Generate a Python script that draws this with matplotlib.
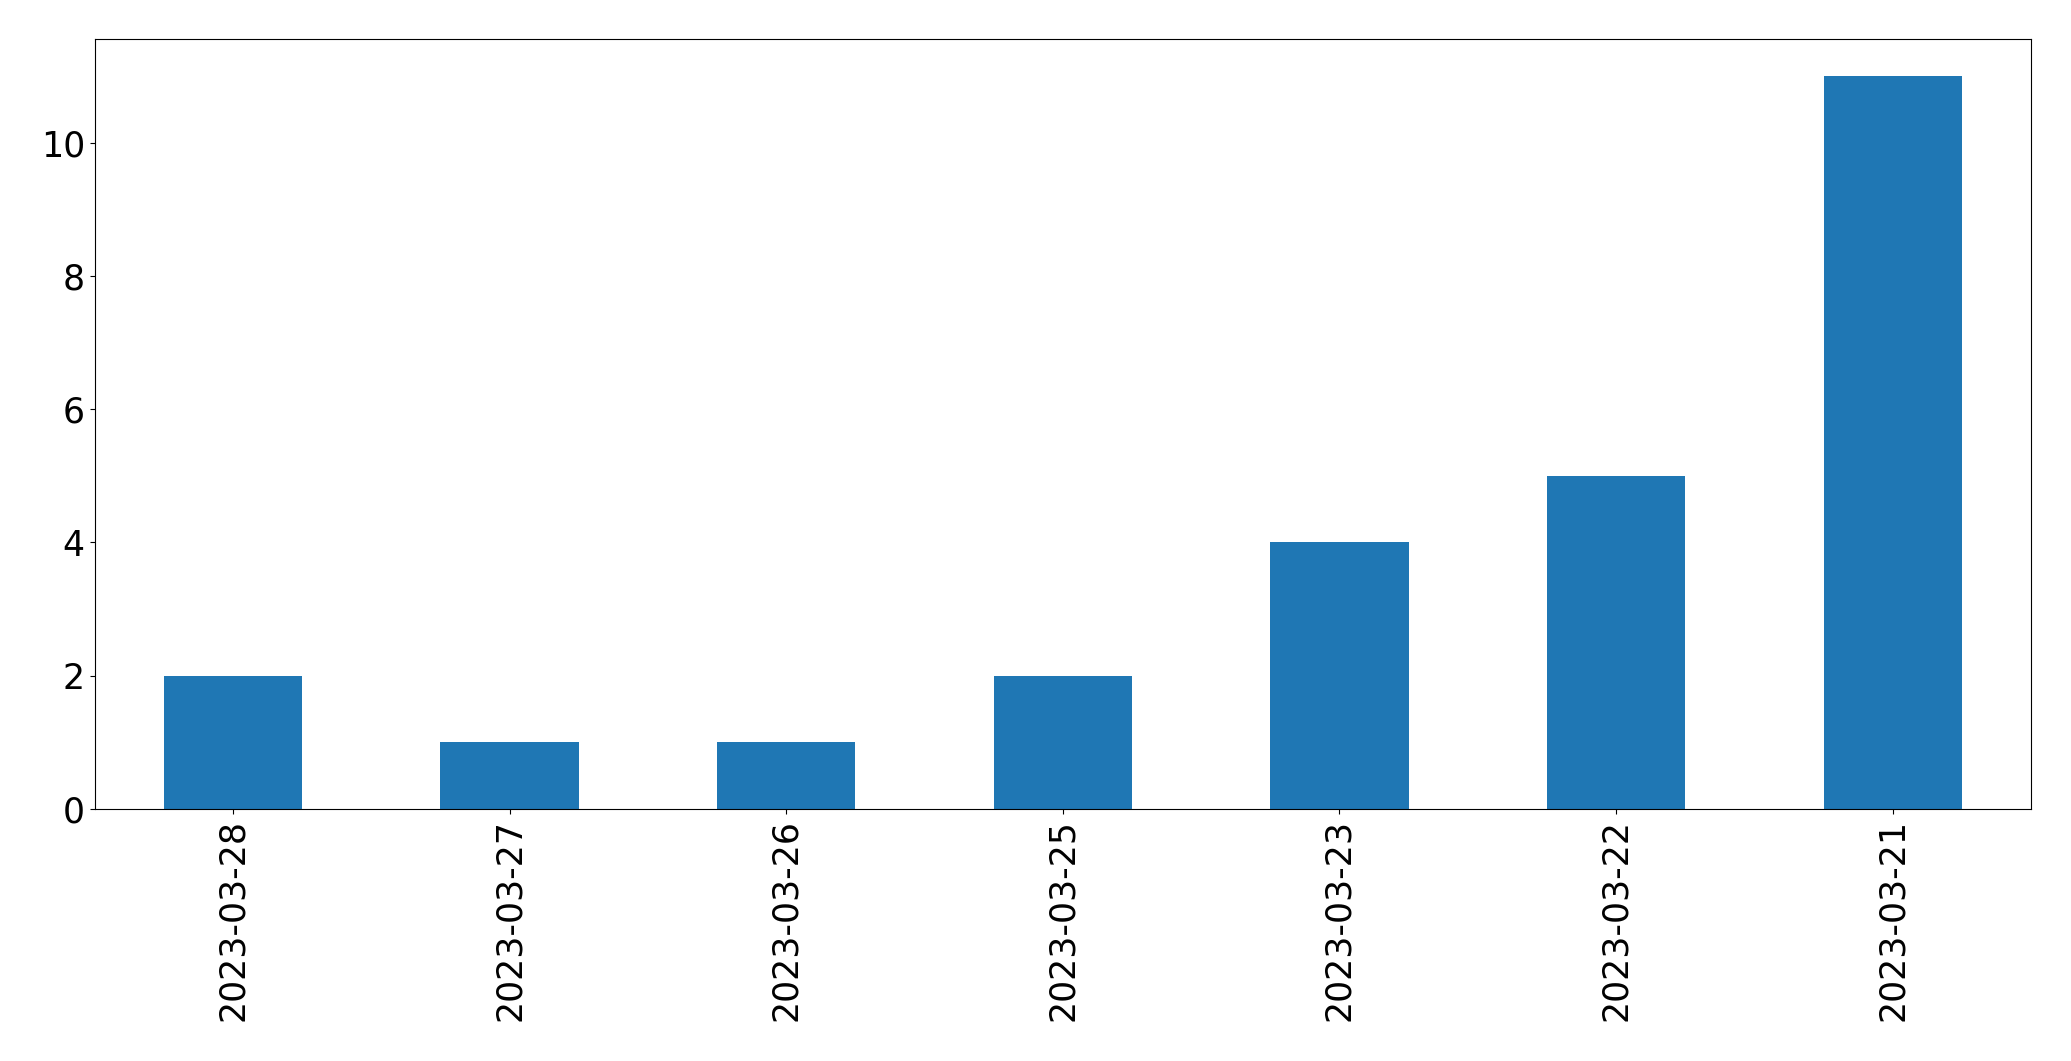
import matplotlib
matplotlib.use("Agg")
import matplotlib.pyplot as plt
import numpy as np

dates = ["2023-03-28", "2023-03-27", "2023-03-26", "2023-03-25",
         "2023-03-23", "2023-03-22", "2023-03-21"]
counts = [2, 1, 1, 2, 4, 5, 11]

fig = plt.figure(figsize=(20.71, 10.61), dpi=100)
ax = fig.add_axes([0.0457, 0.2375, 0.935, 0.7255])

x = np.arange(len(dates))
ax.bar(x, counts, width=0.5, color="#1f77b4")
ax.set_xlim(-0.5, len(dates) - 0.5)
ax.set_xticks(x)
ax.set_xticklabels(dates, rotation=90)
ax.tick_params(axis="both", labelsize=25)

fig.savefig("out.png", dpi=100)
